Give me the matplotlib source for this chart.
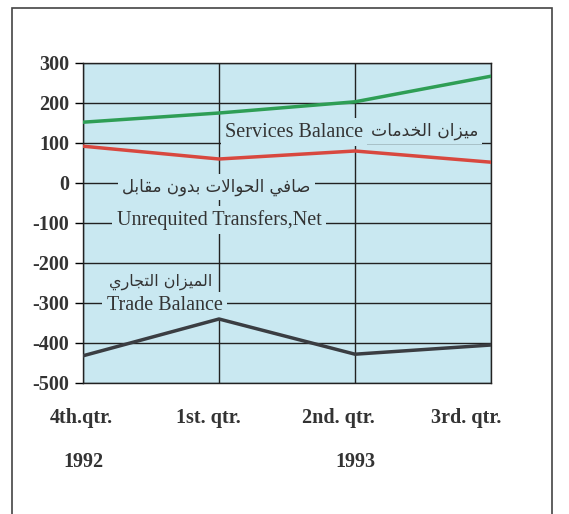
import matplotlib
matplotlib.use('Agg')
import matplotlib.pyplot as plt
from matplotlib.patches import Rectangle

# Quarters on the x axis and the three balances.
quarters = ['4th.qtr.', '1st. qtr.', '2nd. qtr.', '3rd. qtr.']
years = ['1992', '1993']
year_pos = [0, 2]
services = [152, 175, 203, 267]
transfers = [92, 60, 80, 52]
trade = [-432, -340, -428, -405]
y_ticks = [300, 200, 100, 0, -100, -200, -300, -400, -500]

# Arabic shaping (matplotlib draws no joined forms, so use presentation forms)
# letter: (isolated, final, initial, medial); two entries = joins to the right only
forms = {
    'ا': (0xFE8D, 0xFE8E), 'د': (0xFEA9, 0xFEAA), 'ر': (0xFEAD, 0xFEAE),
    'ز': (0xFEAF, 0xFEB0), 'و': (0xFEED, 0xFEEE),
    'ب': (0xFE8F, 0xFE90, 0xFE91, 0xFE92), 'ت': (0xFE95, 0xFE96, 0xFE97, 0xFE98),
    'ج': (0xFE9D, 0xFE9E, 0xFE9F, 0xFEA0), 'ح': (0xFEA1, 0xFEA2, 0xFEA3, 0xFEA4),
    'خ': (0xFEA5, 0xFEA6, 0xFEA7, 0xFEA8), 'ص': (0xFEB9, 0xFEBA, 0xFEBB, 0xFEBC),
    'ف': (0xFED1, 0xFED2, 0xFED3, 0xFED4), 'ق': (0xFED5, 0xFED6, 0xFED7, 0xFED8),
    'ل': (0xFEDD, 0xFEDE, 0xFEDF, 0xFEE0), 'م': (0xFEE1, 0xFEE2, 0xFEE3, 0xFEE4),
    'ن': (0xFEE5, 0xFEE6, 0xFEE7, 0xFEE8), 'ي': (0xFEF1, 0xFEF2, 0xFEF3, 0xFEF4),
}


def shape(text):
    chars = list(text)
    out = []
    i = 0
    while i < len(chars):
        c = chars[i]
        if c not in forms:
            out.append(c)
            i += 1
            continue
        prev = chars[i - 1] if i > 0 else ' '
        joins_prev = prev in forms and len(forms[prev]) == 4 and out and out[-1] != ' '
        if c == 'ل' and i + 1 < len(chars) and chars[i + 1] == 'ا':
            out.append(chr(0xFEFC if joins_prev else 0xFEFB))
            i += 2
            continue
        nxt = chars[i + 1] if i + 1 < len(chars) else ' '
        joins_next = len(forms[c]) == 4 and nxt in forms
        f = forms[c]
        if joins_prev and joins_next:
            out.append(chr(f[3]))
        elif joins_next:
            out.append(chr(f[2]))
        elif joins_prev:
            out.append(chr(f[1]))
        else:
            out.append(chr(f[0]))
        i += 1
    return ''.join(out)[::-1]


bg = '#c9e8f1'
ink = '#333333'
serif = 'Liberation Serif'

fig = plt.figure(figsize=(5.69, 5.14), dpi=100)
fig.patches.append(Rectangle((12 / 569, -0.05), 540 / 569, 1.05 - 8 / 514,
                             transform=fig.transFigure, fill=False,
                             edgecolor='#444444', linewidth=1.2))

ax = fig.add_axes([83 / 569, 1 - 383 / 514, 408 / 569, 320 / 514])
ax.set_facecolor(bg)
x = list(range(len(quarters)))

# lines go above the label boxes
ax.plot(x, services, color='#2e9e55', linewidth=2.5, zorder=5)
ax.plot(x, transfers, color='#d8483f', linewidth=2.5, zorder=5)
ax.plot(x, trade, color='#3a3d42', linewidth=2.5, zorder=5)

ax.set_xlim(0, 3)
ax.set_ylim(-500, 300)
ax.set_yticks(y_ticks)
ax.set_yticklabels([str(v) for v in y_ticks], fontfamily=serif,
                   fontweight='bold', fontsize=14.5, color=ink)
ax.set_xticks(x)
ax.set_xticklabels([])
ax.tick_params(axis='y', direction='out', length=6, width=1, pad=4)
ax.tick_params(axis='x', length=0)
ax.grid(True, color='#222222', linewidth=1, zorder=1)
ax.set_axisbelow(True)
for s in ax.spines.values():
    s.set_color('#222222')
    s.set_linewidth(1)

# quarter labels sit a little left of their gridlines in the original
label_shift = [-0.01, -0.08, -0.12, -0.18]
for q, p, d in zip(quarters, x, label_shift):
    ax.text(p + d, -0.109, q, transform=ax.get_xaxis_transform(), ha='center',
            va='center', fontfamily=serif, fontweight='bold', fontsize=14.5,
            color=ink)
for yr, p in zip(years, year_pos):
    ax.text(p, -0.247, yr, transform=ax.get_xaxis_transform(), ha='center',
            va='center', fontfamily=serif, fontweight='bold', fontsize=14.5,
            color=ink)

box = dict(facecolor=bg, edgecolor='none', pad=3)
lab = dict(color=ink, zorder=4, bbox=box, ha='center', va='center')
ax.text(1.55, 127, 'Services Balance', fontfamily=serif, fontsize=14.5, **lab)
ax.text(2.51, 130, shape('ميزان الخدمات'), fontfamily='DejaVu Sans',
        fontsize=12.3, **lab)
ax.text(0.98, -10, shape('صافي الحوالات بدون مقابل'), fontfamily='DejaVu Sans',
        fontsize=12, **lab)
ax.text(1.0, -92, 'Unrequited Transfers,Net', fontfamily=serif,
        fontsize=14.5, **lab)
ax.text(0.57, -247, shape('الميزان التجاري'), fontfamily='DejaVu Sans',
        fontsize=11.5, **lab)
ax.text(0.6, -307, 'Trade Balance', fontfamily=serif, fontsize=14.5, **lab)

fig.savefig('out.png', dpi=100)
